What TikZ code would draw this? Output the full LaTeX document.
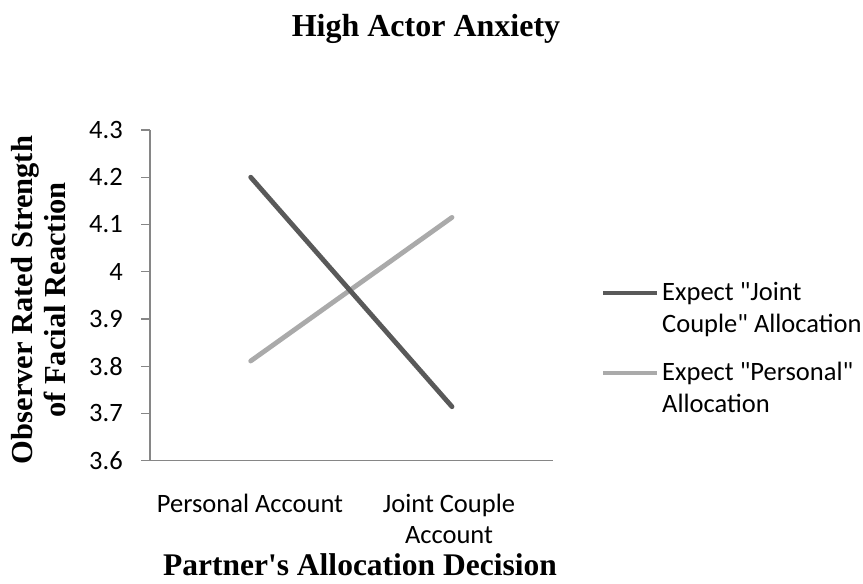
\documentclass[tikz,border=0pt]{standalone}
\usepackage{fontspec}
\setmainfont{Liberation Serif}
\newfontfamily\chartfont{Carlito}
\begin{document}
\begin{tikzpicture}[x=1pt,y=-1pt,
  axisline/.style={draw=axisgray,line width=1.4pt},
  ticklabel/.style={font=\chartfont\fontsize{26.5}{31}\selectfont,text=black,anchor=east,inner sep=0pt},
  catlabel/.style={font=\chartfont\fontsize{26.5}{31}\selectfont,text=black,align=center,inner sep=0pt,anchor=base},
  legtext/.style={font=\chartfont\fontsize{26.5}{32}\selectfont,text=black,align=left,inner sep=0pt,anchor=base west},
  titletext/.style={font=\bfseries\fontsize{32}{34}\selectfont,text=black,inner sep=0pt},
  seriesA/.style={draw=darkseries,line width=4.8pt,line cap=round},
  seriesB/.style={draw=lightseries,line width=4.8pt,line cap=round}]
\definecolor{axisgray}{RGB}{134,134,134}
\definecolor{darkseries}{RGB}{89,89,89}
\definecolor{lightseries}{RGB}{170,170,170}
\useasboundingbox (0,0) rectangle (863,584);
\fill[white] (0,0) rectangle (863,584);

% chart title
\node[titletext,anchor=base] (title) at (426,36) {High Actor Anxiety};

% value axis with ticks and labels
\coordinate (ytop) at (150,130);
\coordinate (ybot) at (150,460.7);
\coordinate (xend) at (553,460.7);
\coordinate (xstart) at (141,460.7);
\draw[axisline] (ytop) -- (ybot);
\draw[axisline] (xstart) -- (xend);
\foreach \lab [count=\i from 0] in {4.3,4.2,4.1,4,3.9,3.8,3.7,3.6}{
  \pgfmathsetmacro{\yy}{130+\i*47.24}
  \coordinate (tick\i) at (150,\yy);
  \draw[axisline] (tick\i) -- ++(-9,0);
  \node[ticklabel] (lab\i) at (123,\yy) {\lab};
}

% axis titles
\node[titletext,rotate=90,align=center,font=\bfseries\fontsize{30.5}{33}\selectfont] (ytitle) at (39,300)
  {Observer Rated Strength\\of Facial Reaction};
\node[titletext,anchor=base,font=\bfseries\fontsize{31.5}{34}\selectfont] (xtitle) at (360,575)
  {Partner\textquotesingle s Allocation Decision};

% category labels
\node[catlabel] (cat1) at (250,512) {Personal Account};
\node[catlabel] (cat2) at (449,543) {Joint Couple\\Account};

% data series
\coordinate (a1) at (250.7,177.2);
\coordinate (a2) at (452,406.7);
\coordinate (b1) at (250.7,361);
\coordinate (b2) at (452,217.4);
\draw[seriesB] (b1) -- (b2);
\draw[seriesA] (a1) -- (a2);

% legend
\coordinate (la1) at (603,293);
\coordinate (la2) at (657,293);
\coordinate (lb1) at (603,373);
\coordinate (lb2) at (657,373);
\draw[seriesA,line cap=butt] (la1) -- (la2);
\draw[seriesB,line cap=butt] (lb1) -- (lb2);
\node[legtext] (legA) at (662,332) {Expect "Joint\\Couple" Allocation};
\node[legtext] (legB) at (662,412) {Expect "Personal"\\Allocation};
\end{tikzpicture}
\end{document}
